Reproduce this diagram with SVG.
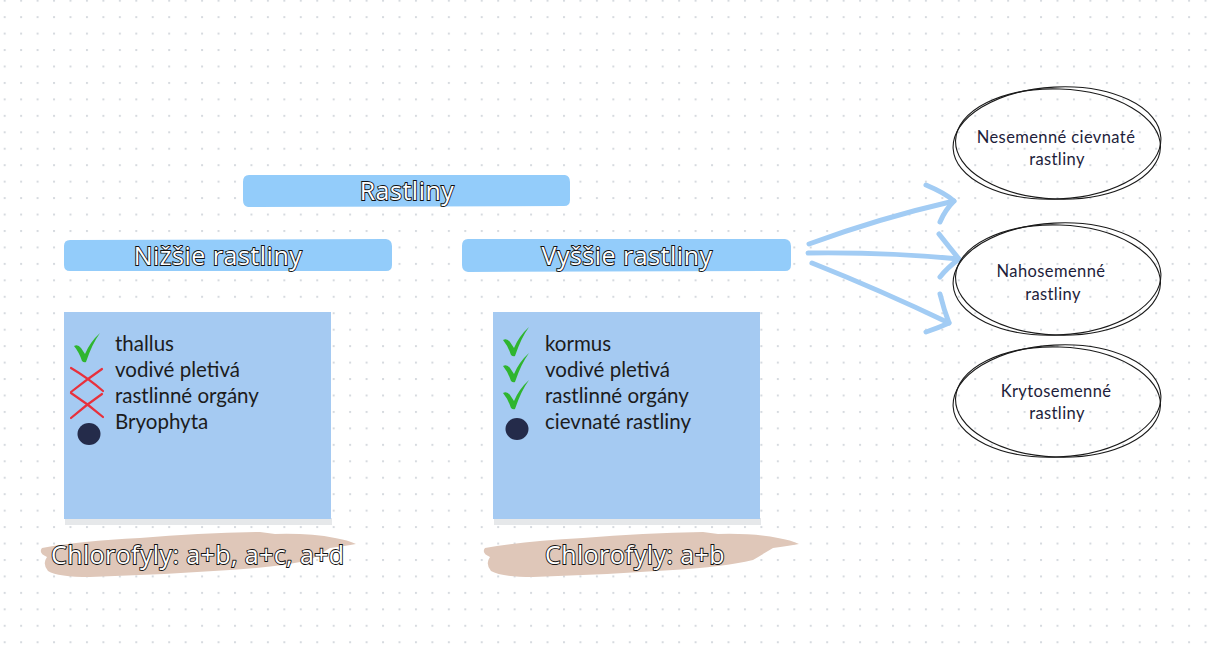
<svg xmlns="http://www.w3.org/2000/svg" width="1209" height="652" viewBox="0 0 1209 652">
<defs>
<pattern id="dots" x="3.7" y="-0.3" width="16.45" height="16.45" patternUnits="userSpaceOnUse">
<rect x="0" y="0" width="2" height="2" fill="#d6dadf"/>
</pattern>
<style>
.bar{fill:#93ccfa}
.box{fill:#a5caf2}
.shadow{fill:#e6e8ea}
.head{font-family:"Open Sans","Noto Sans",sans-serif;font-size:25px;letter-spacing:0.5px;fill:#ffffff;stroke:#111111;stroke-width:1.8px;paint-order:stroke;text-anchor:middle}
.chl{font-family:"Open Sans","Noto Sans",sans-serif;font-size:25px;letter-spacing:0.4px;fill:#ffffff;stroke:#111111;stroke-width:1.8px;paint-order:stroke}
.item{font-family:Lato,"Open Sans",sans-serif;font-size:20.5px;fill:#1c1c1c}
.ell{font-family:Lato,"Open Sans",sans-serif;font-size:16.5px;fill:#1d1d3a;text-anchor:middle;letter-spacing:0.4px}
.brush{fill:#dfc7b9}
.check{fill:#2fb52f}
.cross{stroke:#e8303c;stroke-width:2.2;stroke-linecap:round;fill:none}
.bullet{fill:#242b4a}
.oval{fill:none;stroke:#1a1a1a;stroke-width:1.1}
.arrow{fill:none;stroke:#a2ccf4;stroke-width:5;stroke-linecap:round;stroke-linejoin:round}
</style>
</defs>
<rect width="1209" height="652" fill="#ffffff"/>
<rect width="1209" height="652" fill="url(#dots)"/>

<g id="rastliny">
<path class="bar" d="M249,175 L565,175 Q570,176 570,182 L570,200 Q570,206 564,206 L248,207 Q243,206 243,200 L243,182 Q243,175 249,175 Z"/>
<text class="head" x="407" y="200">Rastliny</text>
</g>

<g id="nizsie">
<path class="bar" d="M70,240 L386,239 Q392,240 392,246 L392,265 Q392,271 386,271 L70,271 Q64,271 64,265 L64,246 Q64,240 70,240 Z"/>
<text class="head" x="218" y="265">Nižšie rastliny</text>
</g>

<g id="vyssie">
<path class="bar" d="M468,239 L785,239 Q791,240 791,246 L791,265 Q791,271 785,271 L468,272 Q462,271 462,265 L462,246 Q462,239 468,239 Z"/>
<text class="head" x="627" y="265">Vyššie rastliny</text>
</g>

<g id="box-nizsie">
<rect class="shadow" x="65" y="518" width="267" height="7"/>
<rect class="box" x="64" y="312" width="267" height="207"/>
<path class="check" d="M74,346 Q78,344 81,348 L85,354 Q90,342 100,333 Q92,344 86,362 Q84,363 82,361 Q79,352 74,346 Z"/>
<path class="cross" d="M71,368 Q88,378 103,391 M102,369 Q86,380 71,392"/>
<path class="cross" d="M71,393 Q88,404 103,417 M102,394 Q86,405 71,418"/>
<ellipse class="bullet" cx="89" cy="434" rx="11.5" ry="11"/>
<text class="item" x="115" y="351">thallus</text>
<text class="item" x="115" y="377">vodivé pletivá</text>
<text class="item" x="115" y="403">rastlinné orgány</text>
<text class="item" x="115" y="429">Bryophyta</text>
</g>

<g id="box-vyssie">
<rect class="shadow" x="494" y="518" width="267" height="7"/>
<rect class="box" x="493" y="312" width="267" height="207"/>
<path class="check" d="M503,340 Q507,338 510,342 L514,348 Q519,336 529,327 Q521,338 515,356 Q513,357 511,355 Q508,346 503,340 Z"/>
<path class="check" d="M503,366 Q507,364 510,368 L514,374 Q519,362 529,353 Q521,364 515,382 Q513,383 511,381 Q508,372 503,366 Z"/>
<path class="check" d="M503,393 Q507,391 510,395 L514,401 Q519,389 529,380 Q521,391 515,409 Q513,410 511,408 Q508,399 503,393 Z"/>
<ellipse class="bullet" cx="517" cy="429" rx="11.5" ry="11"/>
<text class="item" x="545" y="351">kormus</text>
<text class="item" x="545" y="377">vodivé pletivá</text>
<text class="item" x="545" y="403">rastlinné orgány</text>
<text class="item" x="545" y="429">cievnaté rastliny</text>
</g>

<g id="chl-nizsie">
<path class="brush" d="M42,548 Q80,541 140,538 Q200,533 260,532 L275,534 Q310,533 335,538 Q348,540 356,544 Q345,546 330,548 Q320,554 310,560 Q280,567 230,570 Q160,575 90,577 Q58,577 48,571 Q42,564 47,557 Q38,553 42,548 Z"/>
<text class="chl" x="51" y="564">Chlorofyly: a+b, a+c, a+d</text>
</g>

<g id="chl-vyssie">
<path class="brush" d="M485,548 Q523,541 583,538 Q643,533 703,532 L718,534 Q753,533 778,538 Q791,540 799,544 Q788,546 773,548 Q763,554 753,560 Q723,567 673,570 Q603,575 533,577 Q501,577 491,571 Q485,564 490,557 Q481,553 485,548 Z"/>
<text class="chl" x="545" y="564">Chlorofyly: a+b</text>
</g>

<g id="connectors">
<path class="arrow" d="M809,244 Q880,218 954,201"/>
<path class="arrow" d="M926,185 Q945,193 954,201 Q945,210 940,222"/>
<path class="arrow" d="M808,253 Q890,252 959,259"/>
<path class="arrow" d="M939,234 Q950,248 959,259 Q947,268 940,277"/>
<path class="arrow" d="M812,263 Q880,290 949,323"/>
<path class="arrow" d="M940,294 Q944,310 949,323 Q938,328 926,332"/>
</g>

<g id="nesemenne">
<ellipse class="oval" cx="1057" cy="143" rx="104" ry="56" transform="rotate(-3 1057 143)"/>
<ellipse class="oval" cx="1058" cy="144" rx="102.5" ry="55" transform="rotate(2 1058 144)"/>
<text class="ell" x="1056" y="143">Nesemenné cievnaté</text>
<text class="ell" x="1057" y="165">rastliny</text>
</g>

<g id="nahosemenne">
<ellipse class="oval" cx="1057" cy="279" rx="104" ry="56" transform="rotate(-3 1057 279)"/>
<ellipse class="oval" cx="1058" cy="280" rx="102.5" ry="55" transform="rotate(2 1058 280)"/>
<text class="ell" x="1051" y="277">Nahosemenné</text>
<text class="ell" x="1053" y="300">rastliny</text>
</g>

<g id="krytosemenne">
<ellipse class="oval" cx="1057" cy="401" rx="104" ry="56" transform="rotate(-3 1057 401)"/>
<ellipse class="oval" cx="1058" cy="402" rx="102.5" ry="55" transform="rotate(2 1058 402)"/>
<text class="ell" x="1056" y="397">Krytosemenné</text>
<text class="ell" x="1057" y="419">rastliny</text>
</g>
</svg>
